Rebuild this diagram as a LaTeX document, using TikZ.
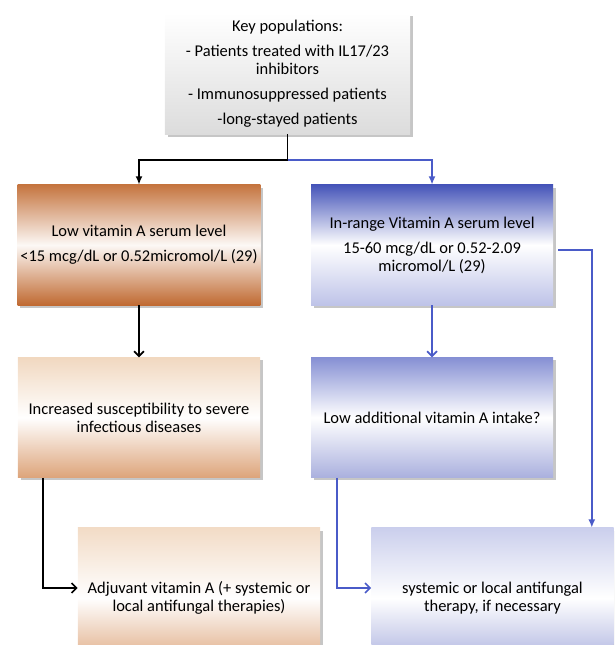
\documentclass[tikz,border=0pt]{standalone}
\usepackage{fontspec}
\setmainfont{Carlito}
\usepackage{tikz}
\usetikzlibrary{arrows.meta,positioning,shadows}
\definecolor{OrangeDark}{HTML}{C57540}
\definecolor{OrangeDeep}{HTML}{C06A32}
\definecolor{OrangeLight}{HTML}{F1D8C0}
\definecolor{OrangeMid}{HTML}{DDA47A}
\definecolor{BlueDark}{HTML}{4655B9}
\definecolor{BlueMid}{HTML}{8690D4}
\definecolor{BlueLight}{HTML}{BEC3E8}
\definecolor{BlueSoft}{HTML}{AAB0DE}
\definecolor{LineBlue}{HTML}{4A5BC8}
\definecolor{PanelGrey}{HTML}{DCDCDC}

\begin{document}
\begin{tikzpicture}[x=0.025cm,y=-0.025cm,
  box/.style={minimum width=6.05cm,minimum height=3cm,inner sep=2pt,align=center,
    font=\fontsize{11.7}{12.8}\selectfont,
    drop shadow={shadow xshift=0.07cm,shadow yshift=-0.07cm,opacity=0.45}},
  link/.style={line width=1.2pt},
  tip/.style={-{Latex[length=6pt,width=5pt]}},
  barb/.style={-{Straight Barb[length=3.5pt,width=7pt]}}]
  \path[use as bounding box,clip] (0,0) rectangle (614,645);
  \node[box,minimum width=6.125cm,minimum height=3.025cm,top color=white,bottom color=PanelGrey] (key) at (287.5,73.5)
    {Key populations:\\[5pt]- Patients treated with IL17/23\\inhibitors\\[5pt]- Immunosuppressed patients\\[5pt]-long-stayed patients};
  \node[box,top color=OrangeDark,bottom color=OrangeDeep,middle color=white!95!OrangeDark] (lowA) at (139,245)
    {Low vitamin A serum level\\[5pt]<15 mcg/dL or 0.52micromol/L (29)};
  \node[box,top color=BlueDark,bottom color=BlueLight,middle color=white,right=1.25cm of lowA] (inrange)
    {In-range Vitamin A serum level\\[5pt]15-60 mcg/dL or 0.52-2.09\\micromol/L (29)};
  \node[box,top color=OrangeLight,bottom color=OrangeMid,middle color=white,below=1.3cm of lowA] (suscept)
    {Increased susceptibility to severe\\infectious diseases};
  \node[box,top color=BlueMid,bottom color=BlueSoft,middle color=white,below=1.3cm of inrange] (lowint)
    {Low additional vitamin A intake?};
  \node[box,minimum height=3.5cm,top color=OrangeLight!90!white,bottom color=OrangeMid,middle color=white] (adjuv) at (199,598)
    {Adjuvant vitamin A (+ systemic or\\local antifungal therapies)};
  \node[box,minimum height=3.5cm,top color=BlueLight!80!white,bottom color=BlueSoft!90!BlueMid,middle color=white] (therapy) at (492.5,598)
    {systemic or local antifungal\\therapy, if necessary};
  % branches from the key populations
  \coordinate[below=0.65cm of key.south] (split);
  \draw[link] (key.south) -- (split);
  \draw[link,tip] (split) -| (lowA.north);
  \draw[link,tip,LineBlue] (split) -| (inrange.north);
  \draw[link,barb] (lowA.south) -- (suscept.north);
  \draw[link,barb,LineBlue] (inrange.south) -- (lowint.north);
  \draw[link,tip,LineBlue] ([xshift=0.125cm,yshift=-0.125cm]inrange.east) -| ([xshift=-0.55cm]therapy.north east);
  \draw[link,barb] ([xshift=0.625cm]suscept.south west) |- ([yshift=0.25cm]adjuv.west);
  \draw[link,barb,LineBlue] ([xshift=0.65cm]lowint.south west) |- ([yshift=0.25cm]therapy.west);
\end{tikzpicture}
\end{document}
